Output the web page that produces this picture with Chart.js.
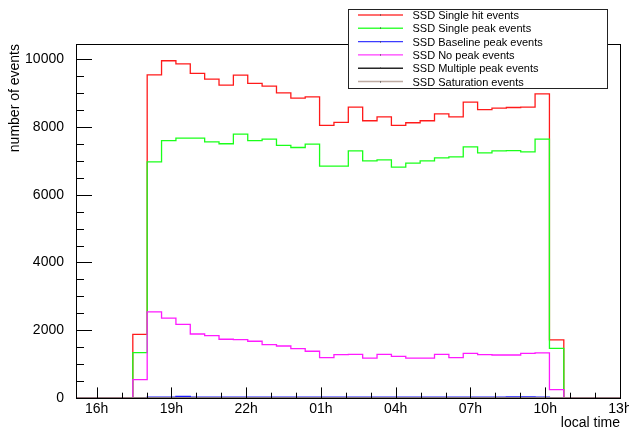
<!DOCTYPE html>
<html>
<head>
<meta charset="utf-8">
<script src="https://cdn.jsdelivr.net/npm/chart.js@4.4.1/dist/chart.umd.min.js"></script>
<style>
  html, body { margin: 0; padding: 0; background: #fff; }
  canvas { display: block; }
</style>
</head>
<body>
<canvas id="ssdChart" width="629" height="432"></canvas>
<script>
// histogram binning (hours, 16 = 16h local time, 25 = 01h next day)
const binStartHour = 17.45;
const binWidthHour = 0.5765;
const axisMinHour = 15.17;
const axisMaxHour = 37;

const singleHit = [1880, 9540, 9955, 9865, 9580, 9415, 9235, 9530, 9285, 9205, 9010, 8855, 8890, 8045, 8135,
  8585, 8185, 8300, 8045, 8125, 8185, 8390, 8300, 8735, 8510, 8555, 8575, 8585, 8980, 1715];
const singlePeak = [1340, 6970, 7600, 7670, 7670, 7560, 7505, 7790, 7600, 7640, 7455, 7395, 7495, 6845, 6845,
  7295, 7000, 7030, 6815, 6935, 7000, 7090, 7120, 7415, 7235, 7295, 7305, 7265, 7640, 1465];
const baselinePeak = [0, 26, 28, 45, 28, 26, 24, 26, 24, 24, 26, 24, 24, 24, 26,
  24, 24, 24, 26, 24, 24, 26, 24, 24, 26, 24, 30, 32, 26, 0];
const noPeak = [540, 2540, 2355, 2175, 1890, 1840, 1735, 1725, 1675, 1575, 1535, 1455, 1380, 1190, 1280,
  1290, 1180, 1290, 1230, 1180, 1180, 1290, 1190, 1320, 1280, 1270, 1270, 1320, 1330, 245];
const multiplePeak = [0, 3, 4, 5, 4, 3, 3, 4, 3, 3, 3, 3, 3, 2, 2,
  3, 2, 2, 2, 2, 2, 3, 2, 3, 3, 3, 3, 3, 3, 0];
const saturation = [0, 0, 0, 0, 0, 0, 0, 0, 0, 0, 0, 0, 0, 0, 0,
  0, 0, 0, 0, 0, 0, 0, 0, 0, 0, 0, 0, 0, 0, 0];

const seriesNames = ["SSD Single hit events", "SSD Single peak events", "SSD Baseline peak events",
  "SSD No peak events", "SSD Multiple peak events", "SSD Saturation events"];
const seriesColors = ["#ff1a1a", "#1aff1a", "#1a1aff", "#ff1aff", "#000000", "#b39c92"];
const seriesValues = [singleHit, singlePeak, baselinePeak, noPeak, multiplePeak, saturation];

const xMajorHours = [16, 19, 22, 25, 28, 31, 34, 37];
const xMajorLabels = ["16h", "19h", "22h", "01h", "04h", "07h", "10h", "13h"];
const xMinorHours = [16, 17, 18, 19, 20, 21, 22, 23, 24, 25, 26, 27, 28, 29, 30, 31, 32, 33, 34, 35, 36, 37];
const yMajorTicks = [0, 2000, 4000, 6000, 8000, 10000];
const yMinorTicks = [0, 500, 1000, 1500, 2000, 2500, 3000, 3500, 4000, 4500, 5000, 5500, 6000, 6500, 7000,
  7500, 8000, 8500, 9000, 9500, 10000];
const yMax = 10450;

const FONT = "'Liberation Sans', Arial, Helvetica, sans-serif";

// outline of a ROOT style histogram: zero before/after, one step per bin
function histPoints(values){
  const pts = [{ x: axisMinHour, y: 0 }];
  values.forEach((v, i) => pts.push({ x: binStartHour + i * binWidthHour, y: v }));
  pts.push({ x: binStartHour + values.length * binWidthHour, y: 0 });
  pts.push({ x: axisMaxHour, y: 0 });
  return pts;
}

const rootFrame = {
  id: "rootFrame",
  afterDraw(chart){
    const ctx = chart.ctx;
    const a = chart.chartArea;
    const xs = chart.scales.x, ys = chart.scales.y;
    ctx.save();
    ctx.strokeStyle = "#000";
    ctx.lineWidth = 1;

    // frame
    ctx.strokeRect(a.left + 0.5, a.top + 0.5, a.right - a.left, a.bottom - a.top);

    // ticks inside the frame
    ctx.beginPath();
    xMinorHours.forEach(h => {
      const px = Math.round(xs.getPixelForValue(h)) + 0.5;
      const len = xMajorHours.includes(h) ? 10.6 : 5.3;
      ctx.moveTo(px, a.bottom);
      ctx.lineTo(px, a.bottom - len);
    });
    yMinorTicks.forEach(v => {
      const py = Math.round(ys.getPixelForValue(v)) + 0.5;
      const len = yMajorTicks.includes(v) ? 16 : 8;
      ctx.moveTo(a.left, py);
      ctx.lineTo(a.left + len, py);
    });
    ctx.stroke();

    // axis titles
    ctx.fillStyle = "#000";
    ctx.font = "14px " + FONT;
    ctx.textAlign = "right";
    ctx.textBaseline = "alphabetic";
    ctx.fillText("local time", a.right, 427);
    ctx.save();
    ctx.translate(18.5, a.top);
    ctx.rotate(-Math.PI / 2);
    ctx.fillText("number of events", 0, 0);
    ctx.restore();

    // legend box
    const lx = 348.5, ly = 9.5, lw = 259, lh = 79;
    ctx.fillStyle = "#fff";
    ctx.fillRect(lx, ly, lw, lh);
    ctx.strokeStyle = "#222";
    ctx.strokeRect(lx, ly, lw, lh);
    ctx.font = "11px " + FONT;
    ctx.textAlign = "left";
    seriesNames.forEach((name, i) => {
      const y = 15 + i * 13.3;
      ctx.strokeStyle = seriesColors[i];
      ctx.globalAlpha = 0.85;
      ctx.lineWidth = 1.4;
      ctx.beginPath();
      ctx.moveTo(358, y);
      ctx.lineTo(403, y);
      ctx.stroke();
      ctx.globalAlpha = 1;
      ctx.fillStyle = "#333";
      ctx.fillRect(380, Math.round(y) - 0.5, 1, 1);
      ctx.fillStyle = "#000";
      ctx.fillText(name, 412.5, y + 4);
    });
    ctx.restore();
  }
};

const datasets = seriesValues.map((vals, i) => ({
  label: seriesNames[i],
  data: histPoints(vals),
  borderColor: seriesColors[i],
  borderWidth: 1.3,
  stepped: true,
  pointRadius: 0,
  fill: false,
  order: seriesValues.length - i
}));

new Chart(document.getElementById("ssdChart"), {
  type: "line",
  data: { datasets },
  options: {
    responsive: false,
    animation: false,
    devicePixelRatio: 1,
    layout: { padding: { top: 44, right: 9, left: 0, bottom: 0 } },
    plugins: { legend: { display: false }, tooltip: { enabled: false } },
    scales: {
      x: {
        type: "linear",
        min: axisMinHour,
        max: axisMaxHour,
        grid: { display: false },
        border: { display: false },
        afterBuildTicks: s => { s.ticks = xMajorHours.map(v => ({ value: v })); },
        afterFit: s => { s.height = 34; s.paddingLeft = 0; s.paddingRight = 0; },
        ticks: {
          autoSkip: false,
          maxRotation: 0,
          padding: -5,
          color: "#000",
          font: { family: FONT, size: 14 },
          callback: v => xMajorLabels[xMajorHours.indexOf(v)]
        }
      },
      y: {
        min: 0,
        max: yMax,
        grid: { display: false },
        border: { display: false },
        afterBuildTicks: s => { s.ticks = yMajorTicks.map(v => ({ value: v })); },
        afterFit: s => { s.width = 76; s.paddingTop = 0; s.paddingBottom = 0; },
        ticks: {
          padding: 4,
          color: "#000",
          font: { family: FONT, size: 14 },
          callback: v => String(v)
        }
      }
    }
  },
  plugins: [rootFrame]
});
</script>
</body>
</html>
